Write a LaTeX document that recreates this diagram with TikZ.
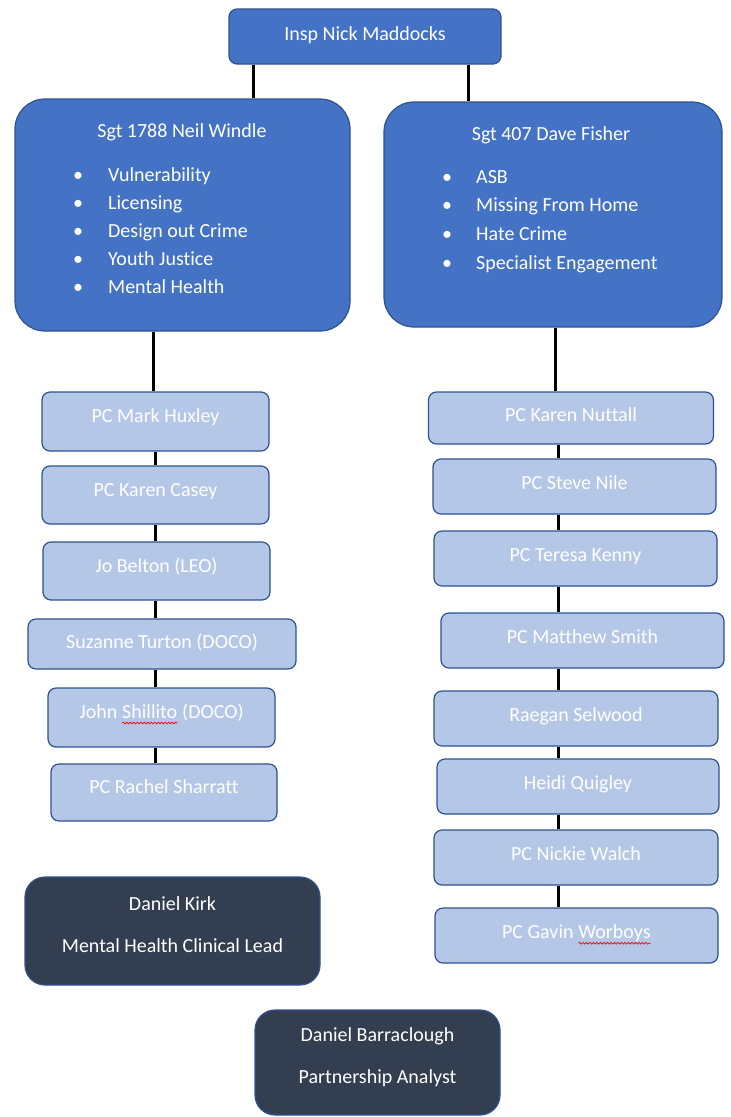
\documentclass[tikz,border=0pt]{standalone}
\usepackage{fontspec}
\setmainfont[Ligatures=CommonOff]{Carlito}
\usetikzlibrary{decorations.pathmorphing}
\definecolor{sgtblue}{HTML}{4472C4}
\definecolor{boxedge}{HTML}{2F528F}
\definecolor{pcblue}{HTML}{B4C7E7}
\definecolor{staffdark}{HTML}{333F50}
\newcommand\spellwave[1]{\tikz[baseline=(sw.base), x=1pt, y=1pt]{\node[shape=rectangle, draw=none, fill=none, inner sep=0pt, outer sep=0pt, minimum width=0pt, minimum height=0pt, text height=, text depth=] (sw) {#1};
	\draw[draw=red, fill=none, line width=0.7pt, sharp corners, decorate, decoration={snake, amplitude=0.9pt, segment length=3.5pt}] ([yshift=-4.5pt]sw.base west) -- ([yshift=-4.5pt]sw.base east);}}
\begin{document}
\begin{tikzpicture}[x=1pt,y=-1pt,
	every node/.style={font=\fontsize{20}{24}\selectfont, text=white},
	head/.style={draw=boxedge, fill=sgtblue, line width=1.2pt, rounded corners=8pt, minimum width=272pt, minimum height=55pt, text height=14pt, text depth=7pt},
	sgtbox/.style={draw=boxedge, fill=sgtblue, line width=1.2pt, rounded corners=30pt},
	pcbox/.style={draw=boxedge, fill=pcblue, line width=1.2pt, rounded corners=8pt, minimum width=227pt, minimum height=58pt, text height=14pt, text depth=12pt},
	pcright/.style={pcbox, minimum width=283pt, minimum height=55pt, text depth=7.5pt},
	staff/.style={draw=boxedge, fill=staffdark, line width=1.2pt, rounded corners=20pt, align=center, font=\fontsize{20}{42}\selectfont, text depth=13pt},
	item/.style={inner sep=0pt, anchor=base west},
	link/.style={line width=3pt}]
	\useasboundingbox (0,0) rectangle (731,1117);
	\node[head] (insp) at (365,36.5) {Insp Nick Maddocks};
	\node[sgtbox, minimum width=335pt, minimum height=232pt] (windle) at (182.5,215) {};
	\node[anchor=base, inner sep=0pt] (windleHead) at (182,137) {Sgt 1788 Neil Windle};
	\foreach \t [count=\i] in {Vulnerability, Licensing, Design out Crime, Youth Justice, Mental Health}
		\node[item] (windle-\i) at (68,{181+28*(\i-1)}) {\makebox[20pt]{\textbullet}\hspace{20pt}\t};
	\node[sgtbox, minimum width=338pt, minimum height=225pt] (fisher) at (553,214.5) {};
	\node[anchor=base, inner sep=0pt] (fisherHead) at (551,140) {Sgt 407 Dave Fisher};
	\foreach \t [count=\i] in {ASB, Missing From Home, Hate Crime, Specialist Engagement}
		\node[item] (fisher-\i) at (437,{183+28.7*(\i-1)}) {\makebox[20pt]{\textbullet}\hspace{19pt}\t};
	\draw[link] (insp.south -| 253,0) -- (windle.north -| 253,0);
	\draw[link] (insp.south -| 468,0) -- (fisher.north -| 468,0);
	\node[pcbox, minimum height=59pt] (huxley) at (155.5,421.5) {PC Mark Huxley};
	\node[pcbox] (casey) at (155.5,495) {PC Karen Casey};
	\node[pcbox] (belton) at (156.5,571) {Jo Belton (LEO)};
	\node[pcbox, minimum width=268pt, minimum height=50pt, text depth=5pt] (turton) at (162,644) {Suzanne Turton (DOCO)};
	\node[pcbox, minimum height=59pt] (shillito) at (161.5,717.5) {John \spellwave{Shillito} (DOCO)};
	\node[pcbox, minimum width=226pt, minimum height=57pt] (sharratt) at (164,792.5) {PC Rachel Sharratt};
	\draw[link] (windle.south -| 153,0) -- (huxley.north -| 153,0);
	\foreach \a/\b in {huxley/casey, casey/belton, belton/turton, turton/shillito, shillito/sharratt}
		\draw[link] (\a.south -| 155,0) -- (\b.north -| 155,0);
	\node[pcright, minimum width=285pt, minimum height=52pt] (nuttall) at (571,418) {PC Karen Nuttall};
	\node[pcright] (nile) at (574.5,486.5) {PC Steve Nile};
	\node[pcright] (kenny) at (575.5,558.5) {PC Teresa Kenny};
	\node[pcright] (smith) at (582.5,640.5) {PC Matthew Smith};
	\node[pcright, minimum width=284pt] (selwood) at (576,718.5) {Raegan Selwood};
	\node[pcright, minimum width=282pt] (quigley) at (578,786.5) {Heidi Quigley};
	\node[pcright, minimum width=284pt] (walch) at (576,857.5) {PC Nickie Walch};
	\node[pcright] (worboys) at (576.5,935.5) {PC Gavin \spellwave{Worboys}};
	\draw[link] (fisher.south -| 555,0) -- (nuttall.north -| 555,0);
	\foreach \a/\b in {nuttall/nile, nile/kenny, kenny/smith, smith/selwood, selwood/quigley, quigley/walch, walch/worboys}
		\draw[link] (\a.south -| 558,0) -- (\b.north -| 558,0);
	\node[staff, minimum width=295pt, minimum height=108pt] (kirk) at (172.5,931) {Daniel Kirk\\Mental Health Clinical Lead};
	\node[staff, minimum width=245pt, minimum height=105pt] (barraclough) at (377.5,1062.5) {Daniel Barraclough\\Partnership Analyst};
\end{tikzpicture}
\end{document}
